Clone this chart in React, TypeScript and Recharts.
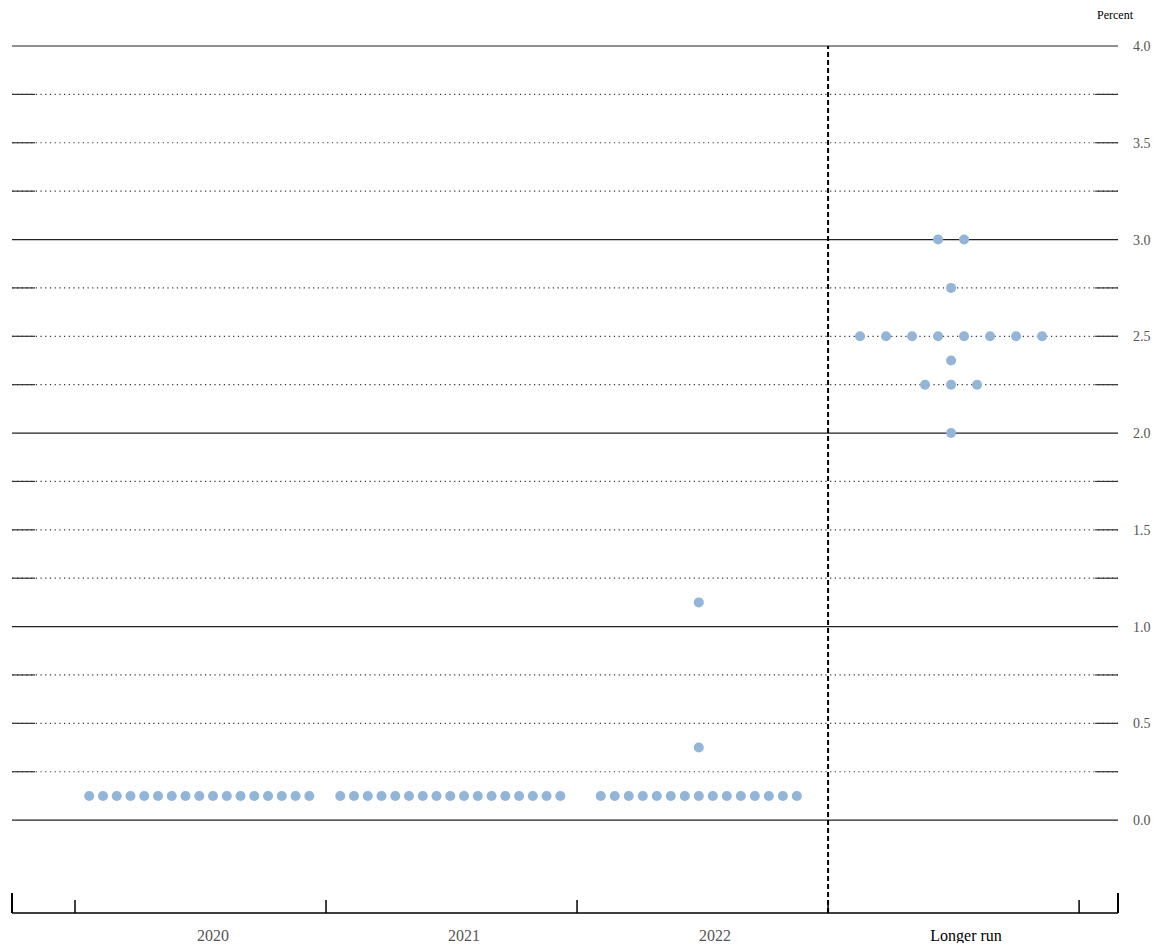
import React from "react";
import { ComposedChart, Scatter, XAxis, YAxis, ReferenceLine } from "recharts";

const categories = ["2020", "2021", "2022", "Longer run"];
const rates = [0.125, 0.375, 1.125, 2.0, 2.25, 2.375, 2.5, 2.75, 3.0];
const counts2020 = [17, 0, 0, 0, 0, 0, 0, 0, 0];
const counts2021 = [17, 0, 0, 0, 0, 0, 0, 0, 0];
const counts2022 = [15, 1, 1, 0, 0, 0, 0, 0, 0];
const countsLR = [0, 0, 0, 1, 3, 1, 8, 1, 2];
const yTicks = [0, 0.5, 1, 1.5, 2, 2.5, 3, 3.5, 4];
const gridLevels = Array.from({ length: 17 }, (_, i) => i * 0.25);

const spacing = [0.0548, 0.0548, 0.0558, 0.1036];
const centers = [0.495, 1.495, 2.485, 3.49];
const allCounts = [counts2020, counts2021, counts2022, countsLR];

const dots: { x: number; y: number }[] = [];
allCounts.forEach((cs, ci) => {
  cs.forEach((n, ri) => {
    for (let k = 0; k < n; k++) {
      dots.push({ x: centers[ci] + (k - (n - 1) / 2) * spacing[ci], y: rates[ri] });
    }
  });
});

const XMIN = -0.251, XMAX = 4.155, YMIN = -0.48, YMAX = 4.0;
const font = "'Liberation Serif', 'Times New Roman', serif";

const XTick = (p: any) => {
  const { x, y, payload } = p;
  const v = payload.value;
  const tall = v === XMIN || v === XMAX;
  const isCat = v >= 0 && v <= 3;
  return (
    <g>
      <line x1={x} x2={x} y1={y} y2={y - (tall ? 20 : 13)} stroke="#000" strokeWidth={tall ? 2 : 1.5} />
      {isCat && (
        <text x={x + 138} y={y + 28} textAnchor="middle" fontFamily={font} fontSize={16}
          fill={v === 3 ? "#000" : "#555"}>{categories[v]}</text>
      )}
    </g>
  );
};

const YTick = (p: any) => {
  const { x, y, payload } = p;
  return (
    <text x={x} y={y + 5} textAnchor="start" fontFamily={font} fontSize={14} fill="#555">
      {payload.value.toFixed(1)}
    </text>
  );
};

export default function App() {
  return (
    <div style={{ position: "relative", width: 1156, height: 935 }}>
      <div style={{ position: "absolute", left: 1089, top: 0, fontFamily: font, fontSize: 12 }}>Percent</div>
      <ComposedChart width={1156} height={935} margin={{ top: 38, right: 0, left: 4, bottom: 0 }}>
        <XAxis type="number" dataKey="x" domain={[XMIN, XMAX]} ticks={[XMIN, 0, 1, 2, 3, 4, XMAX]}
          allowDataOverflow height={30} axisLine={{ stroke: "#000", strokeWidth: 1.5 }} tickLine={false}
          tickSize={0} tickMargin={0} tick={<XTick />} interval={0} />
        <YAxis type="number" dataKey="y" orientation="right" domain={[YMIN, YMAX]} ticks={yTicks}
          allowDataOverflow width={46} axisLine={false} tickLine={false} tickSize={0} tickMargin={15}
          tick={<YTick />} interval={0} />
        {gridLevels.map((g) => {
          const solid = Number.isInteger(g);
          return (
            <React.Fragment key={g}>
              <ReferenceLine y={g} stroke={solid ? "#222" : "#333"} strokeWidth={1.2}
                strokeDasharray={solid ? undefined : "1.2 3.5"} />
              {!solid && (
                <ReferenceLine segment={[{ x: XMIN, y: g }, { x: -0.159, y: g }]} stroke="#333" strokeWidth={1.2} />
              )}
              {!solid && (
                <ReferenceLine segment={[{ x: 4.064, y: g }, { x: XMAX, y: g }]} stroke="#333" strokeWidth={1.2} />
              )}
            </React.Fragment>
          );
        })}
        <ReferenceLine x={3} stroke="#000" strokeWidth={2} strokeDasharray="5 3" />
        <Scatter data={dots} isAnimationActive={false}
          shape={(p: any) => <circle cx={p.cx} cy={p.cy} r={5} fill="#93b5d7" />} />
      </ComposedChart>
    </div>
  );
}
